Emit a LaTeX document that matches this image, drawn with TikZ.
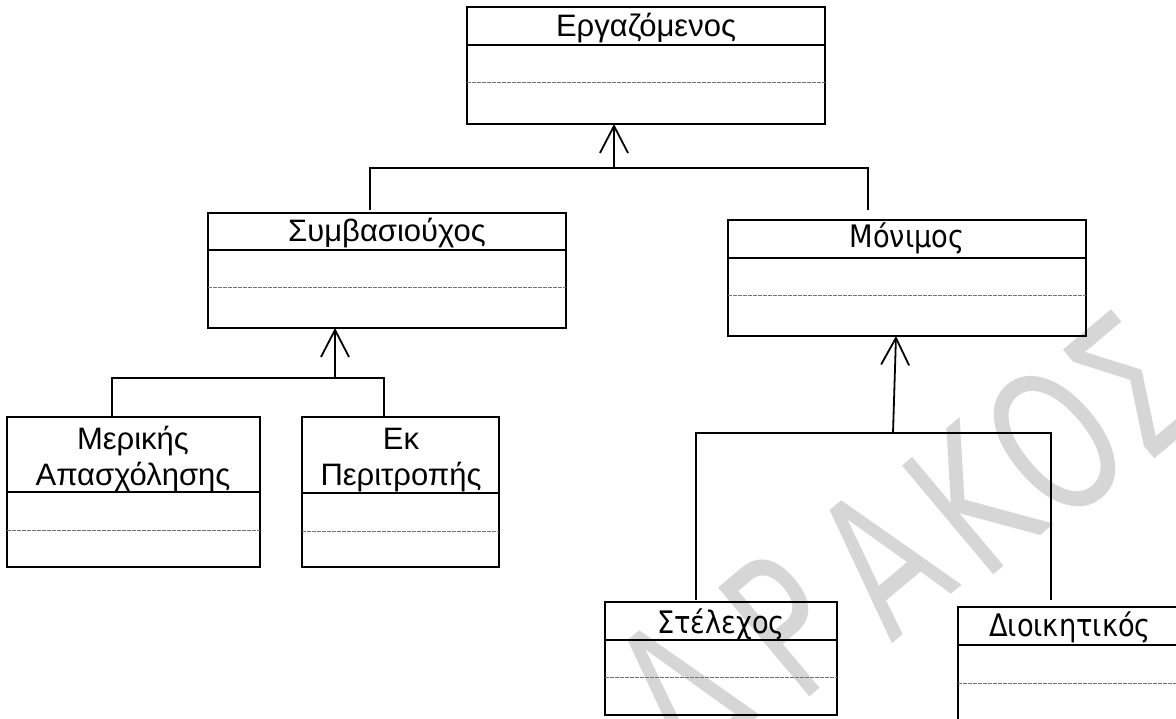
\documentclass[tikz,border=0pt]{standalone}
\usepackage{fontspec}
\setmainfont{Liberation Sans}
\newfontfamily\tahfont[FakeStretch=0.88]{DejaVu Sans}
\newfontfamily\wmfont[FakeStretch=0.7]{DejaVu Sans}
\usetikzlibrary{arrows.meta,calc}

% one class box: name, left, top, right, bottom, header line y, dashed line y
\newcommand{\classbox}[7]{%
  \node[classframe, minimum width={#4-#2}, minimum height={#5-#3}] (#1) at ({(#2+#4)/2},{(#3+#5)/2}) {};
  \draw[headline] (#2,#6) -- (#4,#6);
  \draw[attrline] (#2,#7) -- (#4,#7);
}

\tikzset{
  classframe/.style={draw, line width=2.4pt, inner sep=0pt, outer sep=0pt},
  headline/.style={line width=2.4pt},
  attrline/.style={draw=black!55, line width=1pt, dash pattern=on 3.5pt off 1.5pt},
  link/.style={line width=1.8pt},
  genarrow/.style={link, -{Straight Barb[length=27pt,width=28pt]}},
  arialtitle/.style={font=\fontsize{31}{36}\selectfont, inner sep=0pt, anchor=base, align=center},
  tahtitle/.style={font=\tahfont\fontsize{31}{36}\selectfont, inner sep=0pt, anchor=base},
  watermark/.style={font=\wmfont\fontsize{195}{195}\selectfont, text=black!16, rotate=40, inner sep=0pt}
}

\begin{document}
\begin{tikzpicture}[x=1pt,y=-1pt]
  \useasboundingbox (0,0) rectangle (1176,719);
  \clip (0,0) rectangle (1176,719);

  %%%%% watermark %%%%%
  \foreach \ch/\x/\y [count=\i] in {Δ/680/690, Ρ/785/625, Α/882/560, Κ/972/500, Ο/1055/442, Σ/1132/385}
    \node[watermark] (wm\i) at (\x,\y) {\ch};

  %%%%% classes %%%%%
  \classbox{erg}{467}{7}{825}{124}{45}{83}
  \classbox{symb}{208}{213}{566}{328}{250}{288}
  \classbox{mon}{728}{220}{1086}{336}{258}{296}
  \classbox{meri}{7}{417}{260}{567}{492}{530}
  \classbox{ek}{302}{417}{499}{567}{493}{531}
  \classbox{stel}{605}{602}{837}{715}{640}{677}
  \classbox{dioi}{958}{607}{1200}{760}{645}{683}

  \node[arialtitle] (ergtitle) at (646,37) {Εργαζόμενος};
  \node[arialtitle] (symbtitle) at (387,242) {Συμβασιούχος};
  \node[arialtitle] (merititle) at (133,485) {Μερικής\\Απασχόλησης};
  \node[arialtitle] (ektitle) at (401,485) {Εκ\\Περιτροπής};
  \node[tahtitle] (montitle) at (907,248) {Μόνιμος};
  \node[tahtitle] (steltitle) at (721,633) {Στέλεχος};
  \node[tahtitle] (dioititle) at (1070,636) {Διοικητικός};

  %%%%% generalisations %%%%%
  \coordinate (g1l) at (370,168);
  \coordinate (g1m) at (614,168);
  \coordinate (g1r) at (868,168);
  \draw[link] ([yshift=3pt]g1l |- symb.north) -- (g1l) -- (g1r) -- ([yshift=10pt]g1r |- mon.north);
  \draw[genarrow] (g1m) -- (g1m |- erg.south);

  \coordinate (g2l) at (112,378);
  \coordinate (g2m) at (335,378);
  \coordinate (g2r) at (384,378);
  \draw[link] (g2l |- meri.north) -- (g2l) -- (g2r) -- (g2r |- ek.north);
  \draw[genarrow] (g2m) -- (g2m |- symb.south);

  \coordinate (g3l) at (696,433);
  \coordinate (g3m) at (893,433);
  \coordinate (g3r) at (1051,433);
  \draw[link] ([yshift=2pt]g3l |- stel.north) -- (g3l) -- (g3r) -- ([yshift=7pt]g3r |- dioi.north);
  \draw[genarrow] (g3m) -- ([xshift=3pt]g3m |- mon.south);
\end{tikzpicture}
\end{document}
